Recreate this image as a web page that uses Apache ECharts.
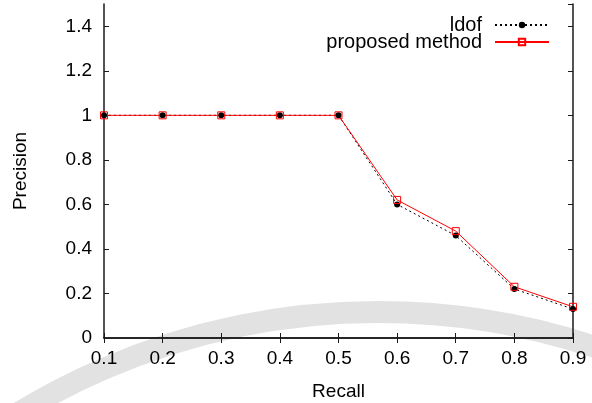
<!DOCTYPE html>
<html>
<head>
<meta charset="utf-8">
<script src="https://cdn.jsdelivr.net/npm/echarts@6/dist/echarts.min.js"></script>
<style>
  html, body { margin: 0; padding: 0; background: #fff; }
  #chart { width: 592px; height: 403px; }
</style>
</head>
<body>
<div id="chart"></div>
<script>
// Precision/recall values for the two methods
const recall = [0.1, 0.2, 0.3, 0.4, 0.5, 0.6, 0.7, 0.8, 0.9];
const ldof = [1, 1, 1, 1, 1, 0.60, 0.46, 0.22, 0.13];
const proposed = [1, 1, 1, 1, 1, 0.62, 0.48, 0.23, 0.14];
const seriesNames = ['ldof', 'proposed method'];

const FONT = 'Liberation Sans';
const AXIS_COLOR = '#1a1a1a';

const pairs = (ys) => recall.map((x, i) => [x, ys[i]]);

const chart = echarts.init(document.getElementById('chart'), null, { renderer: 'canvas' });

const frameAxis = {
  axisLine: { show: true, lineStyle: { color: AXIS_COLOR, width: 1.5 } },
  axisTick: { show: true, inside: true, length: 5, lineStyle: { color: AXIS_COLOR, width: 1 } },
  splitLine: { show: false }
};

chart.setOption({
  animation: false,
  backgroundColor: '#fff',
  textStyle: { fontFamily: FONT },
  graphic: [{
    // light grey ring drawn behind the plot
    type: 'arc',
    z: -10,
    silent: true,
    shape: { cx: 378, cy: 1002, r: 690, startAngle: Math.PI * 1.25, endAngle: Math.PI * 1.75 },
    style: { fill: 'none', stroke: '#e2e2e2', lineWidth: 22 }
  }],
  grid: { left: 104, right: 19, top: 4, bottom: 65, outerBoundsMode: 'none', containLabel: false },
  legend: {
    orient: 'vertical',
    right: 37,
    top: 10,
    align: 'right',
    itemWidth: 54,
    itemHeight: 8,
    itemGap: -3,
    data: seriesNames,
    textStyle: { fontFamily: FONT, fontSize: 20, lineHeight: 19, color: '#000', padding: [0, 8, 0, 0] }
  },
  xAxis: [
    Object.assign({
      type: 'value', position: 'bottom', min: 0.1, max: 0.9, interval: 0.1,
      name: 'Recall', nameLocation: 'middle', nameGap: 44,
      nameTextStyle: { fontFamily: FONT, fontSize: 19, color: '#000' },
      axisLabel: { fontFamily: FONT, fontSize: 19, color: '#000', margin: 11 }
    }, frameAxis),
    Object.assign({
      type: 'value', position: 'top', min: 0.1, max: 0.9, interval: 0.1,
      axisLabel: { show: false }
    }, frameAxis)
  ],
  yAxis: [
    Object.assign({
      type: 'value', position: 'left', min: 0, max: 1.5, interval: 0.2,
      name: 'Precision', nameLocation: 'middle', nameGap: 74,
      nameTextStyle: { fontFamily: FONT, fontSize: 19, color: '#000' },
      axisLabel: { fontFamily: FONT, fontSize: 19, color: '#000', margin: 12, showMaxLabel: false }
    }, frameAxis),
    Object.assign({
      type: 'value', position: 'right', min: 0, max: 1.5, interval: 0.2,
      axisLabel: { show: false }
    }, frameAxis)
  ],
  series: [
    {
      name: seriesNames[0],
      type: 'line',
      data: pairs(ldof),
      symbol: 'circle',
      symbolSize: 6,
      itemStyle: { color: '#000' },
      lineStyle: { color: '#000', width: 1, type: [2, 3] }
    },
    {
      name: seriesNames[1],
      type: 'line',
      data: pairs(proposed),
      symbol: 'rect',
      symbolSize: 7,
      itemStyle: { color: 'rgba(255,255,255,0)', borderColor: '#ff0000', borderWidth: 1 },
      lineStyle: { color: '#ff0000', width: 1 }
    }
  ]
});
</script>
</body>
</html>
